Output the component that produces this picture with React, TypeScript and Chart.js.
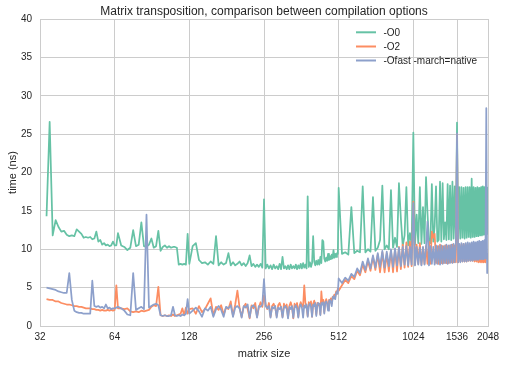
import React, { useEffect, useRef } from 'react';
import { Chart, registerables } from 'chart.js';

Chart.register(...registerables);

const FONT = '"Liberation Sans", Arial, sans-serif';
const TEXT = '#262626';
const GRID = '#cccccc';

const titleText = 'Matrix transposition, comparison between compilation options';
const xTitle = 'matrix size';
const yTitle = 'time (ns)';
const xTickValues = [32, 64, 128, 256, 512, 1024, 1536, 2048];
const seriesLabels = ['-O0', '-O2', '-Ofast -march=native'];
const seriesColors = ['#66c2a5', '#fc8d62', '#8da0cb'];

// matrix sizes (categories), in segments
const sizesA = [34, 35, 36, 37, 38, 39, 40, 41, 42, 43, 44, 45, 46, 47, 48, 49, 50, 51, 52, 53, 54, 55, 56, 57, 58, 59, 60, 61, 62, 63, 64, 65, 66];
const sizesB = [68, 70, 72, 74, 76, 78, 80, 82, 84, 86, 88, 90, 92, 94, 96, 98, 100, 102, 104, 106, 108, 110, 112, 114, 116, 118, 120, 122, 124, 126, 128];
const sizesC = [
  132, 136, 140, 144, 148, 152, 156, 160,
  164, 168, 172, 176, 180, 184, 188, 192,
  196, 200, 204, 208, 212, 216, 220, 224,
  228, 232, 236, 240, 244, 248, 252, 256,
  260, 264, 268, 272, 276, 280, 284, 288,
  292, 296, 300, 304, 308, 312, 316, 320,
  324, 328, 332, 336, 340, 344, 348, 352,
  356, 360, 364, 368, 372, 376, 380, 384,
  388, 392, 396, 400, 404, 408, 412, 416,
  420, 424, 428, 432, 436, 440, 444, 448,
  452, 456, 460, 464, 468, 472, 476, 480,
  484, 488, 492, 496, 500, 504, 508, 512,
];
const sizesD = [
  528, 544, 560, 576, 592, 608, 624, 640,
  656, 672, 688, 704, 720, 736, 752, 768,
  784, 800, 816, 832, 848, 864, 880, 896,
  912, 928, 944, 960, 976, 992, 1008, 1024,
  1040, 1056, 1072, 1088, 1104, 1120, 1136, 1152,
  1168, 1184, 1200, 1216, 1232, 1248, 1264, 1280,
  1296, 1312, 1328, 1344, 1360, 1376, 1392, 1408,
  1424, 1440, 1456, 1472, 1488, 1504, 1520, 1536,
  1552, 1568, 1584, 1600, 1616, 1632, 1648, 1664,
  1680, 1696, 1712, 1728, 1744, 1760, 1776, 1792,
  1808, 1824, 1840, 1856, 1872, 1888, 1904, 1920,
  1936, 1952, 1968, 1984, 2000, 2016, 2032, 2048,
];

// -O0 times (ns)
const o0A = [14.3, 26.6, 11.8, 13.8, 12.9, 12.3, 12.4, 11.9, 11.7, 11.8, 11.7, 12.6, 12.3, 12.0, 11.5, 11.6, 11.5, 11.6, 11.3, 11.4, 12.3, 11.0, 11.2, 10.6, 10.8, 10.5, 10.6, 10.4, 10.5, 11.0, 10.5, 10.5, 12.1];
const o0B = [10.5, 10.3, 9.9, 10.2, 12.5, 10.4, 10.6, 13.5, 10.4, 10.3, 10.6, 11.4, 10.2, 10.4, 12.4, 9.8, 10.3, 10.5, 10.2, 10.4, 10.2, 10.3, 10.3, 10.2, 8.0, 8.1, 8.0, 8.1, 8.0, 12.0, 8.1];
const o0C = [
  10.4, 10.8, 8.6, 8.2, 8.3, 8.0, 8.4, 8.1,
  11.7, 7.9, 8.3, 8.0, 8.2, 9.5, 7.9, 8.3,
  7.9, 8.1, 8.4, 7.9, 8.2, 7.8, 8.2, 9.2,
  7.8, 8.1, 7.7, 8.0, 7.7, 8.1, 7.6, 16.5,
  7.5, 8.0, 7.5, 7.9, 7.4, 8.0, 7.5, 7.8,
  7.4, 8.1, 7.4, 9.0, 7.5, 7.8, 7.4, 7.9,
  7.4, 8.0, 7.5, 7.8, 7.5, 8.0, 7.4, 7.9,
  7.5, 8.1, 7.5, 8.2, 7.6, 8.0, 7.5, 16.9,
  7.7, 8.3, 7.7, 8.2, 11.7, 8.4, 7.9, 8.5,
  8.0, 8.6, 8.0, 9.0, 8.2, 11.2, 11.0, 8.8,
  8.4, 8.9, 8.5, 9.4, 8.6, 9.1, 8.7, 9.3,
  8.8, 9.9, 8.9, 9.4, 9.0, 9.5, 9.4, 18.0,
];
const o0D = [
  9.4, 9.6, 9.3, 15.5, 9.5, 9.8, 9.6, 18.2,
  9.6, 10.0, 9.7, 16.8, 9.8, 10.2, 11.2, 18.3,
  10.0, 10.5, 10.0, 17.7, 10.2, 11.5, 10.3, 18.6,
  14.0, 10.4, 11.8, 18.1, 10.5, 12.1, 10.6, 25.2,
  10.6, 14.5, 10.8, 18.1, 10.7, 15.5, 10.8, 19.4,
  14.7, 10.9, 10.8, 18.5, 11.0, 13.0, 18.2, 11.0,
  11.2, 18.8, 11.0, 18.6, 11.3, 13.5, 11.2, 18.5,
  11.3, 18.3, 11.2, 18.8, 11.4, 18.2, 11.3, 26.5,
  11.3, 18.1, 11.4, 18.1, 11.5, 18.0, 11.4, 18.1,
  11.5, 18.1, 11.6, 18.1, 11.5, 19.2, 11.6, 18.1,
  11.6, 18.0, 11.7, 18.1, 11.7, 18.0, 11.8, 18.1,
  11.8, 18.2, 11.9, 18.1, 11.9, 18.2, 12.0, 18.1,
];

// -O2 times (ns)
const o2A = [3.5, 3.4, 3.4, 3.2, 3.2, 3.0, 2.9, 2.8, 2.8, 2.7, 2.6, 2.6, 2.5, 2.5, 2.4, 2.3, 2.3, 2.3, 2.2, 2.2, 2.1, 2.1, 2.0, 2.1, 2.0, 2.0, 2.1, 2.0, 2.1, 2.0, 2.1, 5.3, 2.3];
const o2B = [2.3, 2.2, 2.3, 1.9, 1.8, 1.9, 1.8, 2.0, 1.9, 2.0, 2.1, 2.5, 2.7, 2.6, 5.1, 1.4, 1.3, 1.4, 1.3, 1.4, 1.3, 1.5, 1.3, 1.4, 1.5, 1.6, 2.3, 1.4, 2.4, 1.6, 2.2];
const o2C = [
  2.3, 1.6, 2.6, 1.8, 2.2, 2.9, 3.6, 1.4,
  2.5, 2.1, 2.7, 1.5, 2.4, 2.2, 3.2, 1.3,
  2.8, 4.6, 2.4, 1.2, 2.5, 2.9, 2.2, 1.0,
  2.7, 2.3, 3.0, 1.2, 2.4, 3.1, 2.5, 4.0,
  2.8, 2.2, 3.0, 1.2, 2.6, 2.9, 2.4, 1.3,
  2.7, 3.0, 2.4, 1.2, 2.9, 2.4, 2.8, 1.1,
  2.6, 3.1, 2.5, 1.0, 2.9, 2.5, 3.0, 1.2,
  2.6, 3.1, 2.7, 2.5, 5.3, 3.0, 2.6, 1.3,
  3.1, 2.7, 3.2, 1.2, 2.9, 3.3, 2.8, 1.5,
  3.0, 2.7, 2.9, 1.5, 4.5, 2.9, 3.4, 1.8,
  3.1, 3.5, 3.0, 2.2, 3.4, 3.1, 3.6, 2.9,
  3.8, 3.6, 4.1, 3.8, 4.5, 4.2, 4.9, 4.6,
];
const o2D = [
  5.3, 6.0, 5.6, 6.5, 6.1, 7.2, 6.6, 8.0,
  7.0, 8.5, 7.2, 9.0, 7.3, 9.3, 7.0, 9.6,
  7.0, 9.4, 7.1, 9.8, 7.0, 10.0, 7.1, 10.3,
  7.4, 10.6, 7.6, 10.9, 7.7, 11.0, 7.8, 16.2,
  8.0, 10.6, 8.1, 10.8, 8.0, 10.2, 8.1, 10.4,
  8.1, 11.0, 8.1, 12.3, 11.5, 12.0, 8.2, 10.4,
  8.1, 10.6, 8.2, 10.4, 8.2, 10.5, 8.2, 10.4,
  8.2, 10.5, 8.3, 10.6, 8.3, 10.5, 8.3, 25.0,
  8.3, 10.6, 8.4, 10.6, 8.4, 10.7, 8.4, 10.6,
  8.4, 10.7, 8.5, 10.6, 8.5, 10.7, 8.5, 10.8,
  8.4, 10.7, 8.4, 10.8, 8.3, 10.7, 8.3, 10.8,
  8.3, 10.8, 8.3, 10.9, 8.3, 9.3, 8.9, 9.3,
];

// -Ofast -march=native times (ns)
const ofA = [5.0, 4.9, 4.8, 4.7, 4.5, 4.4, 4.3, 4.3, 6.9, 3.4, 2.0, 1.8, 1.7, 1.7, 1.6, 1.6, 1.6, 1.6, 5.9, 2.6, 2.5, 2.6, 2.4, 2.5, 2.3, 2.8, 2.3, 2.4, 2.2, 2.3, 2.3, 2.4, 2.5];
const ofB = [2.3, 2.0, 1.5, 1.4, 6.9, 2.1, 2.3, 2.5, 2.2, 14.5, 2.4, 2.6, 2.8, 2.9, 2.7, 1.4, 1.3, 1.4, 1.3, 1.3, 1.4, 2.5, 1.4, 1.3, 1.4, 1.3, 1.5, 1.4, 1.6, 3.5, 1.6];
const ofC = [
  2.0, 2.4, 1.9, 1.2, 2.3, 2.0, 2.5, 1.2,
  2.2, 2.6, 2.1, 1.2, 2.5, 2.3, 2.7, 1.2,
  2.4, 2.6, 2.3, 1.1, 2.6, 2.4, 2.8, 1.1,
  2.5, 2.7, 2.4, 1.1, 2.6, 2.5, 2.8, 6.1,
  2.6, 2.3, 2.6, 1.1, 2.5, 2.3, 2.6, 1.1,
  2.4, 2.2, 2.5, 1.1, 2.4, 2.6, 2.3, 1.0,
  2.5, 2.2, 2.6, 1.1, 2.4, 2.7, 2.3, 1.1,
  2.5, 2.8, 2.4, 1.1, 2.7, 2.4, 2.8, 1.2,
  2.6, 2.9, 2.5, 1.2, 2.8, 2.6, 3.0, 1.3,
  2.7, 3.0, 2.8, 1.4, 3.0, 2.8, 3.1, 1.6,
  3.0, 3.2, 2.9, 2.0, 3.2, 3.4, 3.1, 2.6,
  3.6, 3.9, 3.6, 3.5, 4.3, 4.5, 4.2, 6.2,
];
const ofD = [
  5.6, 6.3, 5.9, 6.8, 6.4, 7.5, 6.9, 8.4,
  7.3, 8.8, 7.5, 9.2, 7.6, 9.5, 7.7, 9.8,
  7.6, 9.7, 7.8, 10.0, 7.7, 10.1, 7.9, 10.2,
  7.8, 10.3, 8.0, 10.4, 7.9, 10.3, 8.0, 16.0,
  7.9, 10.3, 8.0, 10.2, 7.9, 10.3, 8.0, 10.2,
  13.6, 7.9, 10.4, 8.1, 10.3, 8.0, 10.5, 8.1,
  10.4, 8.0, 10.5, 8.1, 10.4, 8.2, 10.6, 8.1,
  10.5, 8.2, 10.6, 8.2, 10.7, 8.3, 10.6, 25.1,
  8.3, 10.7, 8.3, 10.8, 8.4, 10.7, 8.4, 10.8,
  8.4, 10.9, 8.5, 10.8, 8.5, 10.9, 8.5, 11.0,
  8.6, 10.9, 8.6, 11.0, 8.6, 11.1, 8.7, 11.0,
  8.7, 11.1, 8.7, 11.2, 8.8, 28.4, 6.9, 9.5,
];

const sizes = [...sizesA, ...sizesB, ...sizesC, ...sizesD];
const o0 = [...o0A, ...o0B, ...o0C, ...o0D];
const o2 = [...o2A, ...o2B, ...o2C, ...o2D];
const ofast = [...ofA, ...ofB, ...ofC, ...ofD];

const toPoints = (vals: number[]) => {
  const n = Math.min(vals.length, sizes.length);
  const pts: { x: number; y: number }[] = [];
  for (let i = 0; i < n; i++) pts.push({ x: sizes[i], y: vals[i] });
  return pts;
};

const decorPlugin = {
  id: 'decor',
  afterDraw(chart: any) {
    const { ctx, chartArea } = chart;
    const cx = (chartArea.left + chartArea.right) / 2;
    const cy = (chartArea.top + chartArea.bottom) / 2;
    ctx.save();
    ctx.fillStyle = TEXT;
    ctx.textAlign = 'center';
    ctx.textBaseline = 'alphabetic';
    ctx.font = `12px ${FONT}`;
    ctx.fillText(titleText, cx, 15);
    ctx.font = `11px ${FONT}`;
    ctx.fillText(xTitle, cx, 356.5);
    ctx.save();
    ctx.translate(16, cy);
    ctx.rotate(-Math.PI / 2);
    ctx.fillText(yTitle, 0, 0);
    ctx.restore();

    // legend inside the plot, top right
    const lx0 = 356;
    const lx1 = 376;
    const ys = [32.3, 46.5, 60.5];
    ctx.font = `10px ${FONT}`;
    ctx.textAlign = 'left';
    ctx.textBaseline = 'middle';
    seriesLabels.forEach((label, i) => {
      ctx.strokeStyle = seriesColors[i];
      ctx.lineWidth = 2;
      ctx.beginPath();
      ctx.moveTo(lx0, ys[i]);
      ctx.lineTo(lx1, ys[i]);
      ctx.stroke();
      ctx.fillStyle = TEXT;
      ctx.fillText(label, 383.5, ys[i] + 0.5);
    });
    ctx.restore();
  },
};

export default function App() {
  const canvasRef = useRef<HTMLCanvasElement | null>(null);

  useEffect(() => {
    const canvas = canvasRef.current;
    if (!canvas) return;
    const seriesData = [o0, o2, ofast];
    const chart = new Chart(canvas, {
      type: 'line',
      data: {
        datasets: seriesLabels.map((label, i) => ({
          label,
          data: toPoints(seriesData[i]),
          borderColor: seriesColors[i],
          backgroundColor: seriesColors[i],
          borderWidth: 1.75,
          pointRadius: 0,
          tension: 0,
          fill: false,
          borderJoinStyle: 'round' as const,
          order: 3 - i,
        })),
      },
      options: {
        responsive: false,
        animation: false,
        devicePixelRatio: 1,
        events: [],
        layout: { padding: { left: 0, right: 17, top: 19, bottom: 0 } },
        plugins: {
          legend: { display: false },
          title: { display: false },
          tooltip: { enabled: false },
        },
        scales: {
          x: {
            type: 'logarithmic',
            min: 32,
            max: 2048,
            afterBuildTicks: (scale: any) => {
              scale.ticks = xTickValues.map((v) => ({ value: v }));
            },
            afterFit: (scale: any) => {
              scale.height = 39;
            },
            grid: { color: GRID, lineWidth: 1, drawTicks: false },
            border: { display: true, color: GRID, width: 1 },
            ticks: {
              autoSkip: false,
              maxRotation: 0,
              minRotation: 0,
              padding: 5,
              color: TEXT,
              font: { family: FONT, size: 10 },
              callback: (v: any) => String(v),
            },
          },
          y: {
            type: 'linear',
            min: 0,
            max: 40,
            afterFit: (scale: any) => {
              scale.width = 40;
            },
            grid: { color: GRID, lineWidth: 1, drawTicks: false },
            border: { display: true, color: GRID, width: 1 },
            ticks: {
              stepSize: 5,
              padding: 8,
              color: TEXT,
              font: { family: FONT, size: 10 },
            },
          },
        },
      },
      plugins: [decorPlugin],
    } as any);
    return () => chart.destroy();
  }, []);

  return (
    <div style={{ position: 'absolute', left: 0, top: 0, width: 505, height: 365, background: '#fff' }}>
      <canvas ref={canvasRef} width={505} height={365} style={{ width: 505, height: 365 }} />
    </div>
  );
}
